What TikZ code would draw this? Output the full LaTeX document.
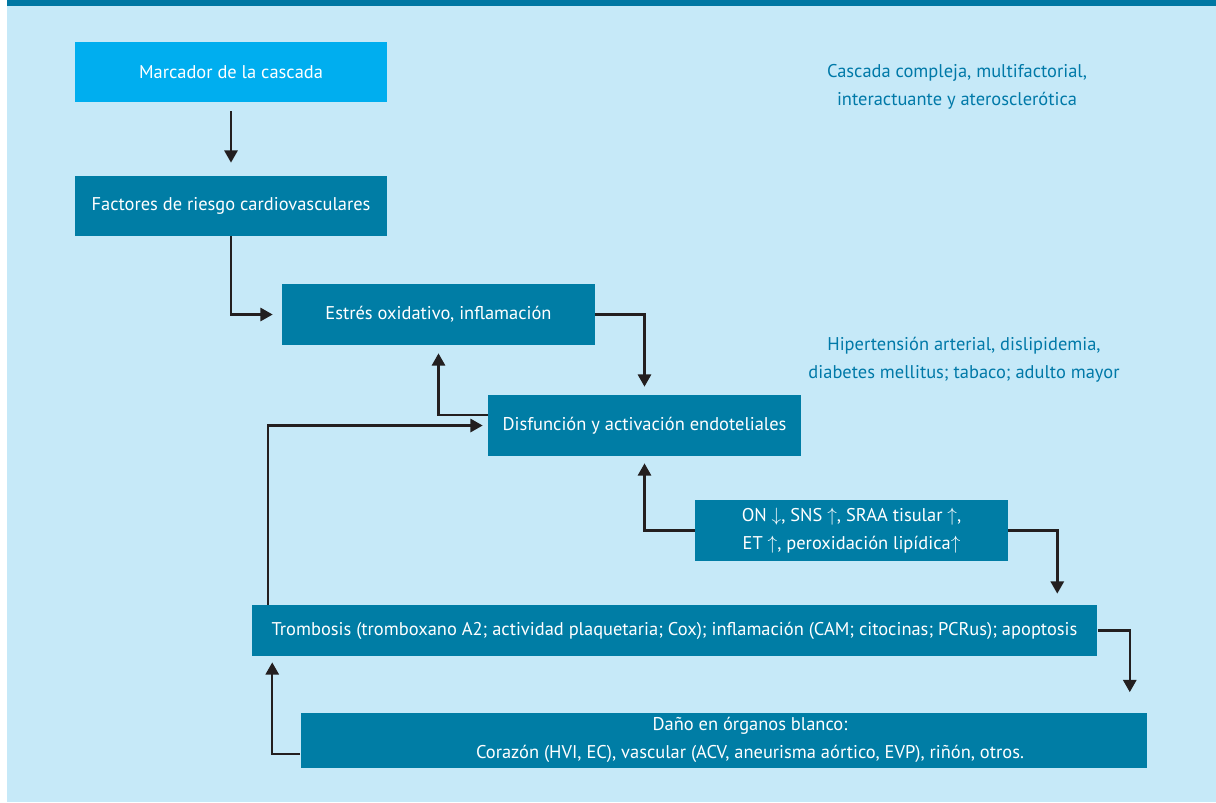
\documentclass[tikz,border=0pt]{standalone}
\usepackage{fontspec}
\setmainfont{PT Sans}
\usetikzlibrary{arrows.meta}

\definecolor{bgblue}{HTML}{C6E9F8}
\definecolor{barblue}{HTML}{0077A3}
\definecolor{boxteal}{HTML}{007DA5}
\definecolor{boxcyan}{HTML}{00AEEF}
\definecolor{noteteal}{HTML}{0079A8}
\definecolor{arrowdark}{HTML}{231F20}

\begin{document}
\begin{tikzpicture}[
    x=0.02cm, y=-0.02cm,
    box/.style={fill=boxteal, text=white, minimum width=6.26cm, minimum height=1.22cm,
                inner sep=0pt, align=center, font=\fontsize{10.5}{16}\selectfont},
    note/.style={text=noteteal, align=center, font=\fontsize{10.5}{16}\selectfont},
    arr/.style={-{Triangle[length=7pt,width=7.5pt]}, line width=1.4pt, draw=arrowdark}
]
\useasboundingbox (0,0) rectangle (1216,802);
\fill [bgblue] (7,0) rectangle (1216,802);
\fill [barblue] (7,0) rectangle (1216,6);

\node (marcador) [box, fill=boxcyan, minimum width=6.24cm, minimum height=1.2cm] at (231,72) {Marcador de la cascada};
\node (factores) [box, minimum width=6.24cm, minimum height=1.2cm] at (231,206) {Factores de riesgo cardiovasculares};
\node (estres) [box] at (438.5,314.5) {Estrés oxidativo, inflamación};
\node (disfuncion) [box] at (644.5,425.5) {Disfunción y activación endoteliales};
\node (on) [box] at (851.5,530.5) {ON $\downarrow$, SNS $\uparrow$, SRAA tisular $\uparrow$,\\ET $\uparrow$, peroxidación lipídica$\uparrow$};
\node (trombosis) [box, minimum width=16.92cm, minimum height=1.02cm] at (674.5,630.5) {Trombosis (tromboxano A2; actividad plaquetaria; Cox); inflamación (CAM; citocinas; PCRus); apoptosis};
\node (dano) [box, minimum width=16.94cm, minimum height=1.1cm] at (724,740) {\hspace*{1.04cm}Daño en órganos blanco:\\\hspace*{1.04cm}Corazón (HVI, EC), vascular (ACV, aneurisma aórtico, EVP), riñón, otros.};

\node (cascada) [note] at (957,87) {Cascada compleja, multifactorial,\\interactuante y aterosclerótica};
\node (hipertension) [note] at (964,360) {Hipertensión arterial, dislipidemia,\\diabetes mellitus; tabaco; adulto mayor};

\draw [arr, shorten <=0.18cm, shorten >=0.26cm] (marcador) -- (factores);
\draw [arr, shorten >=0.18cm] (factores.south) |- (estres.west);
\draw [arr, shorten >=0.16cm] (estres.east) -| (disfuncion.north);
\draw [arr, shorten >=0.16cm] ([yshift=0.21cm]disfuncion.west) -| (estres.south);
\draw [arr, shorten >=0.1cm] ([xshift=0.33cm]trombosis.north west) |- (disfuncion.west);
\draw [arr, shorten >=0.14cm] (on.west) -| (disfuncion.south);
\draw [arr, shorten >=0.22cm] (on.east) -| ([xshift=-0.81cm]trombosis.north east);
\draw [arr, shorten >=0.4cm] (trombosis.east) -| ([xshift=-0.36cm]dano.north east);
\draw [arr, shorten >=0.12cm] ([yshift=-0.28cm]dano.west) -| ([xshift=0.42cm]trombosis.south west);
\end{tikzpicture}
\end{document}
